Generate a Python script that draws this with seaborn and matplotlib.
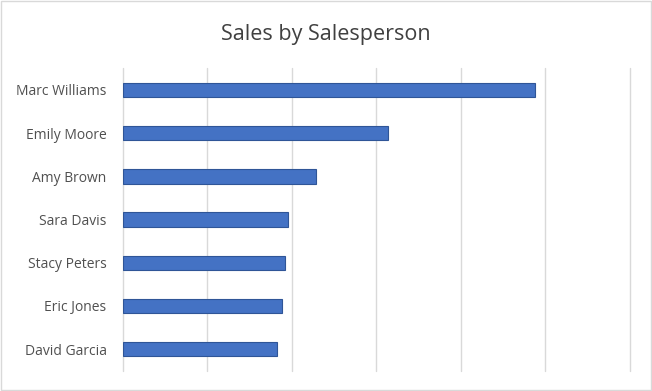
import matplotlib
matplotlib.use("Agg")
import matplotlib.pyplot as plt
import seaborn as sns
import pandas as pd
from matplotlib.patches import Rectangle

salespeople = ["Marc Williams", "Emily Moore", "Amy Brown", "Sara Davis",
               "Stacy Peters", "Eric Jones", "David Garcia"]
sales = [48800, 31400, 22900, 19600, 19200, 18800, 18300]
x_ticks = [0, 10000, 20000, 30000, 40000, 50000, 60000]

df = pd.DataFrame({"Salesperson": salespeople, "Sales": sales})

sns.set_theme(style="white")
plt.rcParams['font.family'] = ['Open Sans', 'DejaVu Sans']

fig = plt.figure(figsize=(6.52, 3.91), dpi=100)
ax = fig.add_axes([0.1879, 0.0517, 0.7784, 0.7734])

sns.barplot(data=df, x="Sales", y="Salesperson", orient="h", width=0.33,
            color="#4472C4", saturation=1, edgecolor="#2F5597", linewidth=0.8,
            ax=ax, zorder=3)

ax.set_xlim(x_ticks[0], x_ticks[-1])
ax.set_xticks(x_ticks)
ax.set_xticklabels([])
ax.tick_params(axis="x", length=0)
ax.tick_params(axis="y", length=0, pad=11.5, labelsize=10, labelcolor="#505050")
ax.grid(axis="x", color="#D9D9D9", linewidth=1)
ax.set_axisbelow(True)
for s in ax.spines.values():
    s.set_visible(False)
ax.set_xlabel("")
ax.set_ylabel("")
for line in ax.get_xgridlines():
    line.set_clip_on(False)

fig.text(0.5, 0.912, "Sales by Salesperson", ha="center", va="center",
         fontsize=15.5, color="#404040")

fig.patches.append(Rectangle((0.0015, 0.0025), 0.997, 0.995, transform=fig.transFigure,
                             fill=False, edgecolor="#D9D9D9", linewidth=1))

fig.savefig("out.png", dpi=100)
